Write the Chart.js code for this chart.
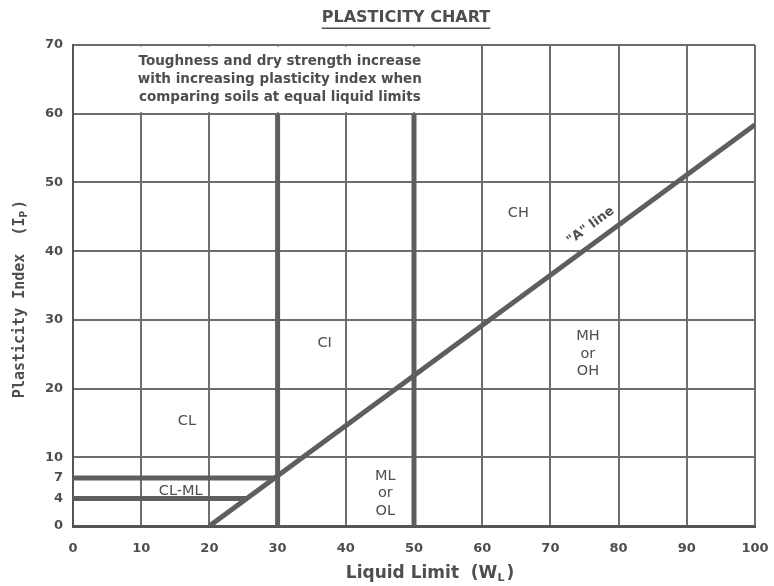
<!DOCTYPE html>
<html>
<head>
<meta charset="utf-8">
<script src="https://cdn.jsdelivr.net/npm/chart.js@4"></script>
<style>
  html, body { margin: 0; padding: 0; background: #fff; }
</style>
</head>
<body>
<canvas id="grafico" width="774" height="586"></canvas>
<script>
// Tick positions
const xTicks = [0, 10, 20, 30, 40, 50, 60, 70, 80, 90, 100];
const yTicks = [0, 4, 7, 10, 20, 30, 40, 50, 60, 70];

// "A" line: Ip = 0.73 (wL - 20)
const aLineX = [20, 100];
const aLineY = [0, 58.4];

// heavy boundaries
const wl30X = [30, 30];
const wl30Y = [0, 60];
const wl50X = [50, 50];
const wl50Y = [0, 60];
const clml7X = [0, 29.6];
const clml7Y = [7, 7];
const clml4X = [0, 25.5];
const clml4Y = [4, 4];

// zone names (data units)
const zoneNames = ['CL', 'CL-ML', 'CI', 'CH', 'ML\nor\nOL', 'MH\nor\nOH'];
const zoneX = [16.7, 15.8, 36.9, 65.3, 45.8, 75.5];
const zoneY = [15.2, 5.1, 26.6, 45.5, 4.7, 25.0];

// note box
const noteX = [0, 60];
const noteY = [60, 70];
const noteLines = [
  'Toughness and dry strength increase',
  'with increasing plasticity index when',
  'comparing soils at equal liquid limits'
];

const textColor = '#4e4e4e';
const lineColor = '#5e5e5e';
const gridColor = '#6e6e6e';
const fontFam = '"DejaVu Sans", Verdana, sans-serif';
const monoFam = '"DejaVu Sans Mono", monospace';

const pts = (xs, ys) => xs.map((x, i) => ({ x: x, y: ys[i] }));

function linea(xs, ys) {
  return {
    data: pts(xs, ys),
    showLine: true,
    pointRadius: 0,
    borderColor: lineColor,
    borderWidth: 5,
    borderCapStyle: 'butt'
  };
}

const dibujo = {
  id: 'dibujo',
  beforeDatasetsDraw(chart) {
    const c = chart.ctx;
    const sx = chart.scales.x, sy = chart.scales.y;
    // clear grid inside the note box
    const l = sx.getPixelForValue(noteX[0]) + 2;
    const r = sx.getPixelForValue(noteX[1]) - 1.5;
    const t = sy.getPixelForValue(noteY[1]) + 1.5;
    const b = sy.getPixelForValue(noteY[0]) - 1.5;
    c.save();
    c.fillStyle = '#fff';
    c.fillRect(l, t, r - l, b - t);
    c.fillStyle = textColor;
    c.font = 'bold 13.5px ' + fontFam;
    c.textAlign = 'center';
    c.textBaseline = 'middle';
    const cx = (l + r) / 2 + 2;
    const cy = (t + b) / 2;
    noteLines.forEach((s, i) => c.fillText(s, cx, cy + (i - 1) * 18));
    c.restore();
  },
  afterDatasetsDraw(chart) {
    const c = chart.ctx;
    const sx = chart.scales.x, sy = chart.scales.y;
    const area = chart.chartArea;
    c.save();
    c.fillStyle = textColor;
    c.textAlign = 'center';
    c.textBaseline = 'middle';
    c.font = '14.5px ' + fontFam;
    zoneNames.forEach((n, i) => {
      const parts = n.split('\n');
      const px = sx.getPixelForValue(zoneX[i]);
      const py = sy.getPixelForValue(zoneY[i]);
      parts.forEach((p, j) => c.fillText(p, px, py + (j - (parts.length - 1) / 2) * 17.5));
    });

    // "A" line label
    const x0 = sx.getPixelForValue(aLineX[0]), y0 = sy.getPixelForValue(aLineY[0]);
    const x1 = sx.getPixelForValue(aLineX[1]), y1 = sy.getPixelForValue(aLineY[1]);
    const ang = Math.atan2(y1 - y0, x1 - x0);
    c.save();
    c.translate(sx.getPixelForValue(77.2), sy.getPixelForValue(41.9));
    c.rotate(ang);
    c.font = 'bold 13px ' + fontFam;
    c.fillText('"A" line', 0, -15);
    c.restore();

    // title
    const mid = (area.left + area.right) / 2;
    c.font = 'bold 16px ' + fontFam;
    c.fillText('PLASTICITY CHART', mid - 8, 18);
    const w = c.measureText('PLASTICITY CHART').width;
    c.fillRect(mid - 8 - w / 2, 27.5, w, 1.5);

    // axis titles with subscripts
    function titulo(main, sub, x, y, rot, f1, f2) {
      c.save();
      c.translate(x, y);
      c.rotate(rot);
      c.textAlign = 'left';
      c.textBaseline = 'middle';
      c.font = f1;
      const a = c.measureText(main).width;
      const close = c.measureText(')').width;
      c.font = f2;
      const s = c.measureText(sub).width;
      const tot = a + s + close + 2;
      let px = -tot / 2;
      c.font = f1;
      c.fillText(main, px, 0);
      px += a;
      c.font = f2;
      c.fillText(sub, px, 4);
      px += s + 2;
      c.font = f1;
      c.fillText(')', px, 0);
      c.restore();
    }
    titulo('Liquid Limit  (W', 'L', mid + 16, 574, 0, 'bold 17px ' + fontFam, 'bold 11px ' + fontFam);
    titulo('Plasticity Index  (I', 'P', 20, 299, -Math.PI / 2, 'bold 15px ' + monoFam, 'bold 11px ' + monoFam);
    c.restore();
  }
};

new Chart(document.getElementById('grafico'), {
  type: 'scatter',
  data: {
    datasets: [
      linea(aLineX, aLineY),
      linea(wl30X, wl30Y),
      linea(wl50X, wl50Y),
      linea(clml7X, clml7Y),
      linea(clml4X, clml4Y)
    ]
  },
  options: {
    responsive: false,
    animation: false,
    layout: { padding: { left: 0, right: 19, top: 45, bottom: 0 } },
    plugins: {
      legend: { display: false },
      tooltip: { enabled: false }
    },
    scales: {
      x: {
        type: 'linear',
        min: 0,
        max: 100,
        afterBuildTicks: (s) => { s.ticks = xTicks.map(v => ({ value: v })); },
        afterFit: (s) => { s.height = 60; s.paddingLeft = 0; s.paddingRight = 0; },
        grid: { color: gridColor, lineWidth: 2, drawTicks: false },
        border: { color: '#555', width: 3 },
        ticks: { color: textColor, padding: 15, font: { family: fontFam, size: 13, weight: 'bold' } }
      },
      y: {
        type: 'linear',
        min: 0,
        max: 70,
        afterBuildTicks: (s) => { s.ticks = yTicks.map(v => ({ value: v })); },
        afterFit: (s) => { s.width = 73; s.paddingTop = 0; s.paddingBottom = 0; },
        grid: {
          color: (ctx) => (ctx.tick && (ctx.tick.value === 4 || ctx.tick.value === 7)) ? 'rgba(0,0,0,0)' : gridColor,
          lineWidth: 2,
          drawTicks: false
        },
        border: { color: '#555', width: 2 },
        ticks: { color: textColor, padding: 10, font: { family: fontFam, size: 13, weight: 'bold' } }
      }
    }
  },
  plugins: [dibujo]
});
</script>
</body>
</html>
